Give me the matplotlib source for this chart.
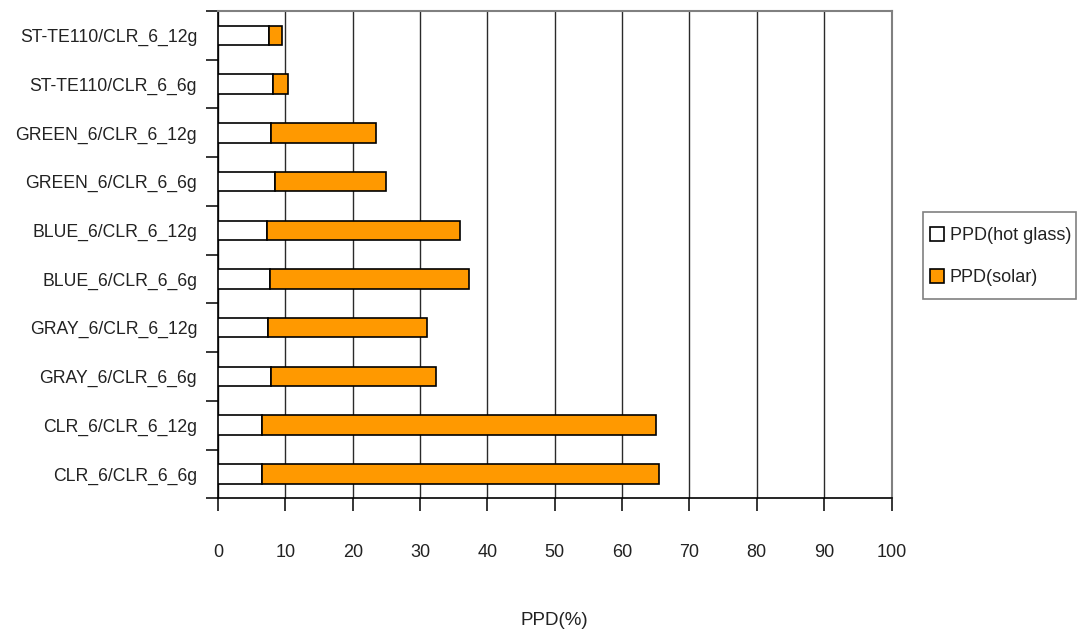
import matplotlib
matplotlib.use("Agg")
import matplotlib.pyplot as plt
from matplotlib.patches import Rectangle
import numpy as np

plt.rcParams['font.family'] = ['Liberation Sans', 'DejaVu Sans']

# Glazing combinations, listed bottom to top
categories = [
    "CLR_6/CLR_6_6g",
    "CLR_6/CLR_6_12g",
    "GRAY_6/CLR_6_6g",
    "GRAY_6/CLR_6_12g",
    "BLUE_6/CLR_6_6g",
    "BLUE_6/CLR_6_12g",
    "GREEN_6/CLR_6_6g",
    "GREEN_6/CLR_6_12g",
    "ST-TE110/CLR_6_6g",
    "ST-TE110/CLR_6_12g",
]
# PPD contributions (%)
ppd_hot_glass = [6.6, 6.6, 7.9, 7.4, 7.7, 7.3, 8.4, 7.8, 8.2, 7.6]
ppd_total = [65.5, 65.0, 32.4, 31.0, 37.2, 35.9, 25.0, 23.5, 10.4, 9.5]
ppd_solar = [t - h for t, h in zip(ppd_total, ppd_hot_glass)]
x_ticks = [0, 10, 20, 30, 40, 50, 60, 70, 80, 90, 100]

TEXT = "#222222"
W, H = 1081, 631
fig = plt.figure(figsize=(W / 100, H / 100), dpi=100)
ax = fig.add_axes([218 / W, 1 - 498.3 / H, (891.5 - 218) / W, (498.3 - 11) / H])

y = np.arange(len(categories))
bar_h = 0.40
ax.barh(y, ppd_hot_glass, height=bar_h, color="white", edgecolor="black",
        linewidth=1.2, label="PPD(hot glass)", zorder=3)
ax.barh(y, ppd_solar, left=ppd_hot_glass, height=bar_h, color="#FF9900",
        edgecolor="black", linewidth=1.2, label="PPD(solar)", zorder=3)

ax.set_xlim(0, 100)
ax.set_ylim(-0.5, len(categories) - 0.5)

# x axis
ax.set_xticks(x_ticks)
ax.set_xticklabels([str(v) for v in x_ticks])
ax.tick_params(axis="x", which="major", direction="out", length=9, width=1.1,
               color="black", labelsize=13, pad=24, labelcolor=TEXT)
ax.xaxis.grid(True, color="#2a2a2a", linewidth=1.0, zorder=0)

# y axis: boundary ticks, labels centred on the bars
ax.set_yticks(np.arange(-0.5, len(categories), 1.0))
ax.set_yticklabels([])
ax.set_yticks(y, minor=True)
ax.set_yticklabels(categories, minor=True)
ax.tick_params(axis="y", which="major", direction="out", length=9, width=1.1,
               color="black")
ax.tick_params(axis="y", which="minor", length=0, labelsize=12.7, pad=15,
               labelcolor=TEXT)

for side in ("left", "bottom"):
    ax.spines[side].set_color("black")
    ax.spines[side].set_linewidth(1.2)
for side in ("top", "right"):
    ax.spines[side].set_color("#808080")
    ax.spines[side].set_linewidth(1.5)

ax.set_xlabel("PPD(%)", fontsize=13.5, color=TEXT, va="center")
ax.xaxis.set_label_coords(0.5, -0.251)

# Legend: entries placed inside a plain grey box
box = Rectangle((923 / W, 1 - 299 / H), (1076 - 923) / W, (299 - 212) / H,
                transform=fig.transFigure, facecolor="white",
                edgecolor="#808080", linewidth=1.2, zorder=5)
fig.patches.append(box)
leg = fig.legend(loc="center left", bbox_to_anchor=(930 / W, 1 - 256.5 / H),
                 borderaxespad=0, borderpad=0, fontsize=13, frameon=False,
                 handlelength=0.8, handleheight=0.8, handletextpad=0.3,
                 labelspacing=1.35)
leg.set_zorder(6)
for t in leg.get_texts():
    t.set_color(TEXT)

fig.savefig("out.png", dpi=100, facecolor="white")
